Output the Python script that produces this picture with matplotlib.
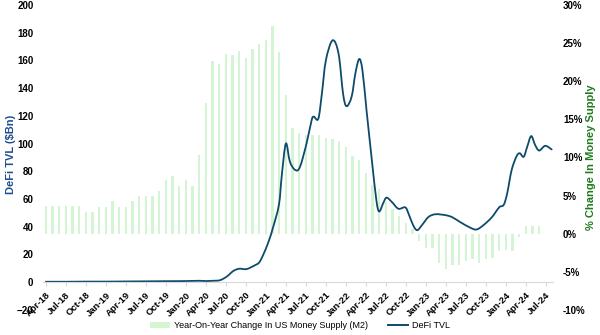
import numpy as np
import pandas as pd
import matplotlib
matplotlib.use('Agg')
import matplotlib.pyplot as plt
from matplotlib.patches import Patch, PathPatch
from matplotlib.lines import Line2D
from matplotlib.path import Path

plt.rcParams['font.family'] = ['Liberation Sans', 'DejaVu Sans']

# monthly YoY change in US M2 (%), Apr-18 .. Jun-24
m2_start = '2018-04'
m2_yoy = [3.6, 3.6, 3.6, 3.6, 3.6, 3.6, 2.8, 2.8, 3.5, 3.5, 4.25, 3.5,
          3.5, 4.25, 4.9, 4.9, 4.9, 5.6, 7.0, 7.6, 6.2, 7.0, 6.2, 10.3,
          17.2, 22.6, 22.3, 23.6, 23.4, 24.0, 23.1, 24.2, 24.9, 25.4, 27.3, 23.9,
          18.2, 13.9, 13.2, 13.0, 13.0, 12.9, 12.6, 12.4, 12.2, 11.4, 10.2, 9.6,
          8.0, 6.4, 5.9, 4.1, 3.2, 2.3, 1.4, 0.6, -1.0, -1.9, -1.9, -3.8,
          -4.6, -4.1, -4.1, -3.6, -3.3, -3.8, -3.3, -3.2, -2.3, -2.1, -2.3, -0.4,
          1.0, 1.0, 1.0]

# DeFi TVL ($Bn)
tvl_dates = ['2018-04-01', '2018-07-01', '2018-10-01', '2019-01-01', '2019-04-01',
             '2019-07-01', '2019-10-01', '2020-01-01', '2020-03-01', '2020-04-01',
             '2020-05-01', '2020-06-04', '2020-07-04', '2020-08-04', '2020-08-28',
             '2020-09-13', '2020-10-04', '2020-10-28', '2020-11-13', '2020-12-01',
             '2020-12-19', '2021-01-13', '2021-02-04', '2021-02-28', '2021-03-13',
             '2021-04-01', '2021-04-19', '2021-05-13', '2021-06-04', '2021-07-04',
             '2021-07-28', '2021-08-07', '2021-08-28', '2021-09-13', '2021-10-01',
             '2021-11-01', '2021-11-28', '2021-12-19', '2022-01-04', '2022-01-28',
             '2022-02-13', '2022-03-01', '2022-03-16', '2022-04-04', '2022-04-28',
             '2022-05-19', '2022-06-01', '2022-06-19', '2022-07-04', '2022-07-28',
             '2022-08-28', '2022-09-28', '2022-10-13', '2022-11-04', '2022-11-22',
             '2022-12-13', '2023-01-13', '2023-02-13', '2023-03-28', '2023-04-28',
             '2023-06-04', '2023-07-19', '2023-08-19', '2023-09-19', '2023-10-28',
             '2023-12-01', '2023-12-22', '2024-01-07', '2024-01-28', '2024-02-19',
             '2024-03-04', '2024-03-22', '2024-04-07', '2024-04-25', '2024-05-13',
             '2024-06-01', '2024-06-28', '2024-07-28']
tvl_bn = [0.3, 0.3, 0.4, 0.4, 0.5,
          0.6, 0.7, 0.8, 1.0, 0.8,
          1.0, 1.4, 3.9, 8.0, 9.6,
          9.6, 9.4, 11.0, 12.3, 14.2,
          19.5, 29, 40, 56, 77,
          100, 87, 81, 83, 100,
          117, 119.4, 118, 136, 160,
          174.5, 165, 136, 127, 134,
          150.7, 161, 153, 124, 88,
          59, 51, 57, 61, 58,
          53, 54, 49.6, 41, 37.5,
          41, 47, 49, 48.4, 47,
          43.5, 39.5, 38, 41, 46.7,
          54, 55.8, 64, 81, 91,
          93, 90.5, 97.7, 105.4, 99,
          95, 98.4, 95.8]

tick_start, tick_end = '2018-04', '2024-07'


def month_index(d):
    d = pd.Timestamp(d)
    return (d.year - 2018) * 12 + (d.month - 4) + (d.day - 1) / d.days_in_month


def smooth_path(x, y):
    # Excel-style smoothed line: bezier segments through the points
    pts = np.column_stack([x, y])
    ext = np.vstack([pts[0], pts, pts[-1]])
    verts = [pts[0]]
    codes = [Path.MOVETO]
    for i in range(len(pts) - 1):
        p0, p1, p2, p3 = ext[i], ext[i + 1], ext[i + 2], ext[i + 3]
        verts += [p1 + (p2 - p0) / 6, p2 - (p3 - p1) / 6, p2]
        codes += [Path.CURVE4] * 3
    return Path(verts, codes)


bar_x = np.arange(len(m2_yoy))
tvl_x = np.array([month_index(d) for d in tvl_dates])
tick_months = pd.period_range(tick_start, tick_end, freq='M')[::3]
tick_x = [month_index(p.to_timestamp()) for p in tick_months]
tick_lbl = [p.strftime('%b-%y') for p in tick_months]

bar_col = '#d3f5d3'
line_col = '#0d4a6b'

fig = plt.figure(figsize=(6, 3.35), dpi=100)
ax = fig.add_axes([0.072, 0.075, 0.85, 0.91])
ax2 = ax.twinx()
ax.set_zorder(ax2.get_zorder() + 1)
ax.patch.set_visible(False)

ax2.bar(bar_x, m2_yoy, width=0.36, color=bar_col)
ax.add_patch(PathPatch(smooth_path(tvl_x, tvl_bn), facecolor='none',
                       edgecolor=line_col, linewidth=1.3, capstyle='round'))

ax.set_xlim(-0.4, 76.1)
ax.set_ylim(-20, 200)
ax2.set_ylim(-10, 30)

for a in (ax, ax2):
    for s in a.spines.values():
        s.set_visible(False)
ax.spines['bottom'].set_visible(True)
ax.spines['bottom'].set_position(('data', 0))
ax.spines['bottom'].set_color('#d9d9d9')

ax.set_xticks(tick_x)
ax.set_xticklabels(tick_lbl, rotation=45, ha='right', rotation_mode='anchor',
                   fontsize=6.8, fontweight='bold')
ax.tick_params(axis='x', length=3, color='#d9d9d9', pad=3)

ax.set_yticks(np.arange(-20, 201, 20))
ax.tick_params(axis='y', length=0, pad=7, labelsize=7)
for t in ax.get_yticklabels():
    t.set_fontweight('bold')

ax2.set_yticks(np.arange(-10, 31, 5))
ax2.set_yticklabels(['%d%%' % v for v in np.arange(-10, 31, 5)])
ax2.tick_params(axis='y', length=0, pad=7, labelsize=7)
for t in ax2.get_yticklabels():
    t.set_fontweight('bold')

fig.text(0.018, 0.54, 'DeFi TVL ($Bn)', rotation=90, ha='center', va='center',
         color='#1f4e8c', fontsize=8, fontweight='bold')
fig.text(0.985, 0.53, '% Change In Money Supply', rotation=90, ha='center', va='center',
         color='#1e7b1e', fontsize=8, fontweight='bold')

handles = [Patch(facecolor=bar_col, edgecolor='none'),
           Line2D([0], [0], color=line_col, linewidth=1.4)]
fig.legend(handles, ['Year-On-Year Change In US Money Supply (M2)', 'DeFi TVL'],
           loc='lower center', bbox_to_anchor=(0.5, -0.01), ncol=2, frameon=False,
           fontsize=6.5, handlelength=2.2, handleheight=0.6, columnspacing=2.2,
           handletextpad=0.5)

fig.savefig('out.png', dpi=100)
